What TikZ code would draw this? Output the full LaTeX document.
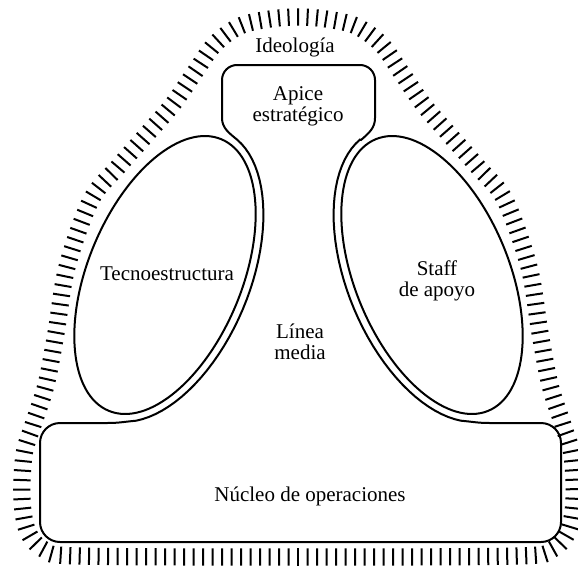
\documentclass[tikz,border=0pt]{standalone}
\usepackage{fontspec}
\setmainfont{Liberation Serif}
\usepackage{tikz}
\usetikzlibrary{decorations.markings}

\tikzset{
  caja/.style={line width=1pt},
  rotulo/.style={font=\fontsize{10.5}{10.5}\selectfont, inner sep=0pt},
  ideologia/.style={decorate, decoration={markings,
      mark=between positions 0 and 1 step 4.75pt with
      {\draw[line width=1pt] (0pt,-4.3pt) -- (0pt,4.3pt);}}}
}

\begin{document}
\begin{tikzpicture}[x=0.5pt, y=-0.5pt]
\useasboundingbox (0,0) rectangle (578,573);
% ideologia: contorno rayado
\path[ideologia] plot[smooth cycle, tension=0.55] coordinates {
  (298,17) (326,19) (356,26) (381,44) (401,72) (423,104) (448,133)
  (478,167) (505,200) (529,267) (540,333) (550,385) (563,425)
  (572,455) (574,500) (568,532) (551,550) (516,556) (298,557)
  (80,556) (45,550) (28,532) (22,500) (24,455) (33,425) (46,385)
  (56,333) (67,267) (91,200) (118,167) (148,133) (173,104)
  (195,72) (215,44) (240,26) (270,19)};
% apice, linea media y nucleo
\draw[caja] (222,80) arc[start angle=180, end angle=270, radius=15]
  -- (360,65) arc[start angle=270, end angle=360, radius=15]
  -- (375,118) .. controls (375,128) and (369,133) .. (361,140)
  -- plot[domain=10:160, samples=40, variable=\t]
     ({432-59.32*cos(\t)-78.53*sin(\t)}, {275-143.2*cos(\t)+32.53*sin(\t)})
  .. controls (475,422) and (478,423) .. (490,423)
  -- (541,423) arc[start angle=270, end angle=360, radius=20]
  -- (561,522) arc[start angle=0, end angle=90, radius=20]
  -- (60,542) arc[start angle=90, end angle=180, radius=20]
  -- (40,443) arc[start angle=180, end angle=270, radius=20]
  -- (107,423) .. controls (119,423) and (122,422) .. (136.1,420.7)
  -- plot[domain=160:10, samples=40, variable=\t]
     ({165+59.32*cos(\t)+78.53*sin(\t)}, {275-143.2*cos(\t)+32.53*sin(\t)})
  .. controls (229,133) and (222,128) .. (222,118) -- cycle;
% tecnoestructura y staff de apoyo
\draw[caja, rotate around={-22.5:(165,275)}] (165,275) ellipse[x radius=77, y radius=147];
\draw[caja, rotate around={22.5:(432,275)}] (432,275) ellipse[x radius=77, y radius=147];

\node[rotulo, anchor=base] (ideo) at (295,52) {Ideología};
\node[rotulo, align=center] (apice) at (298,106) {Apice\\estratégico};
\node[rotulo, anchor=base] (tecno) at (167,280) {Tecnoestructura};
\node[rotulo, align=center] (staff) at (437,281) {Staff\\de apoyo};
\node[rotulo, align=center] (linea) at (300,342) {Línea\\media};
\node[rotulo, anchor=base] (nucleo) at (310,501) {Núcleo de operaciones};
\end{tikzpicture}
\end{document}
